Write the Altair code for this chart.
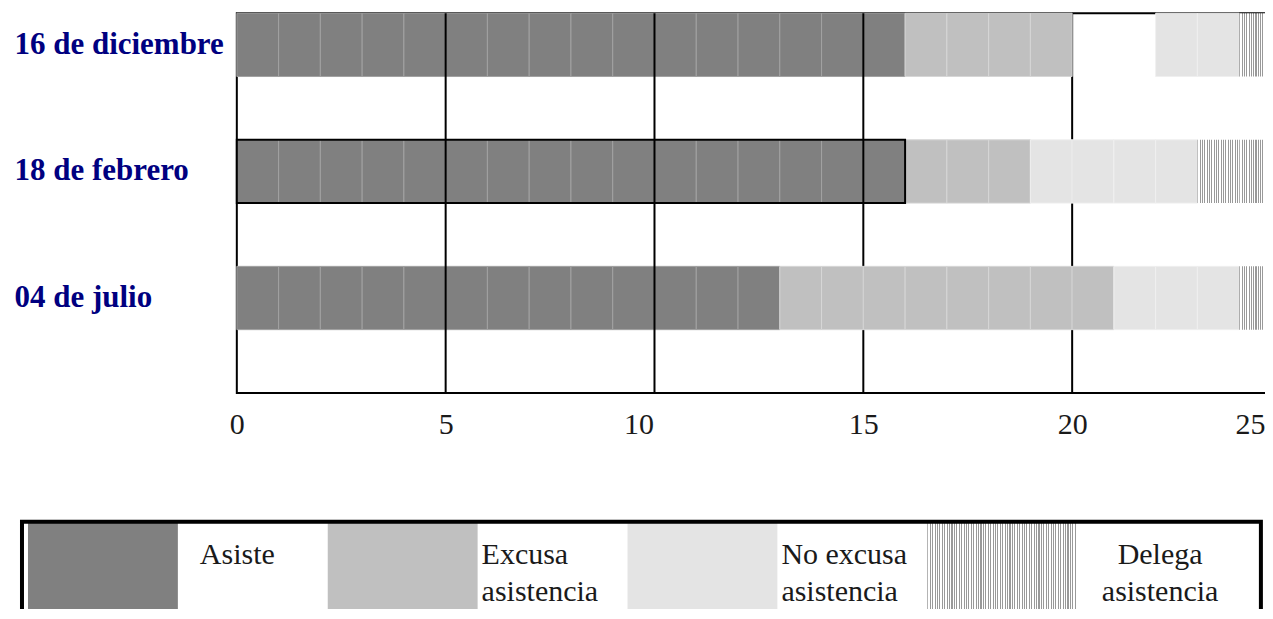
import altair as alt
import pandas as pd

# ---------------- data ----------------
fechas = ["16 de diciembre", "18 de febrero", "04 de julio"]
asiste = [16, 16, 13]
excusa = [4, 3, 8]
sin_dato = [2, 0, 0]
no_excusa = [2, 4, 3]
delega = [1, 2, 1]

categorias = ["Asiste", "Excusa", "Sin dato", "No excusa", "Delega"]
series = [asiste, excusa, sin_dato, no_excusa, delega]

ticks_x = [0, 5, 10, 15, 20, 25]
grid_x = [5, 10, 15, 20]

legend_items = ["Asiste", "Excusa", "No excusa", "Delega"]
legend_labels = ["Asiste", "Excusa\nasistencia", "No excusa\nasistencia", "Delega\nasistencia"]

# one rectangle per person (unit), stacked in order
rows = []
for i, f in enumerate(fechas):
    pos = 0
    for cat, vals in zip(categorias, series):
        for _ in range(vals[i]):
            rows.append({"fecha": f, "cat": cat, "ini": pos, "fin": pos + 1, "slot": "barra"})
            pos += 1
units = pd.DataFrame(rows)

SERIF = "Liberation Serif"
fill_dom = ["Asiste", "Excusa", "No excusa"]
fill_rng = ["#808080", "#c0c0c0", "#e4e4e4"]
stroke_rng = ["#a2a2a2", "#d6d6d6", "#efefef"]


def rayado(n, color="#999999"):
    stops = []
    for i in range(n):
        a = i / n
        b = (i + 0.45) / n
        c = (i + 1) / n
        stops += [
            alt.GradientStop(offset=a, color=color),
            alt.GradientStop(offset=b, color=color),
            alt.GradientStop(offset=b, color="#ffffff"),
            alt.GradientStop(offset=c, color="#ffffff"),
        ]
    return alt.LinearGradient(gradient="linear", stops=stops, x1=0, x2=1, y1=0, y2=0)


x_enc = alt.X(
    "ini:Q",
    scale=alt.Scale(domain=[0, 25], nice=False, zero=True),
    axis=alt.Axis(
        values=ticks_x, labelFlush=False, grid=False, ticks=False, domain=False,
        title=None, labelFont=SERIF, labelFontSize=30, labelColor="#1a1a1a",
        labelPadding=17,
        labelOffset={
            "condition": [
                {"test": "datum.value == 10", "value": -16},
                {"test": "datum.value == 25", "value": -31},
            ],
            "value": 0,
        },
    ),
)
y_enc = alt.Y(
    "fecha:N",
    sort=fechas,
    scale=alt.Scale(domain=fechas, paddingInner=0, paddingOuter=0),
    axis=alt.Axis(
        title=None, domain=False, ticks=False, tickSize=0, labelAlign="left",
        labelPadding=223, labelOffset=-31.67, labelBaseline="middle",
        labelFont=SERIF, labelFontSize=31, labelFontWeight="bold",
        labelColor="#000080", labelLimit=0,
    ),
)
yoff = alt.YOffset("slot:N", scale=alt.Scale(domain=["barra", "hueco"], paddingInner=0, paddingOuter=0))
fill_enc = alt.Fill("cat:N", scale=alt.Scale(domain=fill_dom, range=fill_rng), legend=None)
stroke_enc = alt.Stroke("cat:N", scale=alt.Scale(domain=fill_dom, range=stroke_rng), legend=None)

base = alt.Chart(units)

capa_asiste = base.transform_filter("datum.cat == 'Asiste'").mark_bar(strokeWidth=1).encode(
    x=x_enc, x2="fin:Q", y=y_enc, yOffset=yoff, fill=fill_enc, stroke=stroke_enc
)
capa_grid = alt.Chart(pd.DataFrame({"ini": grid_x})).mark_rule(color="black", strokeWidth=2).encode(
    x=alt.X("ini:Q")
)
capa_otros = base.transform_filter("datum.cat == 'Excusa' || datum.cat == 'No excusa'").mark_bar(
    strokeWidth=1
).encode(x=alt.X("ini:Q"), x2="fin:Q", y=alt.Y("fecha:N", sort=fechas), yOffset=yoff, fill=fill_enc, stroke=stroke_enc)
capa_delega = base.transform_filter("datum.cat == 'Delega'").mark_bar(
    fill=rayado(18), strokeWidth=0
).encode(x=alt.X("ini:Q"), x2="fin:Q", y=alt.Y("fecha:N", sort=fechas), yOffset=yoff)
capa_borde = base.transform_filter(
    "datum.fecha == '18 de febrero' && datum.cat == 'Asiste'"
).transform_aggregate(ini="min(ini)", fin="max(fin)", groupby=["fecha", "slot"]).mark_bar(
    fillOpacity=0, stroke="black", strokeWidth=2
).encode(x=alt.X("ini:Q"), x2="fin:Q", y=alt.Y("fecha:N", sort=fechas), yOffset=yoff)

top = alt.layer(capa_asiste, capa_grid, capa_otros, capa_delega, capa_borde).properties(
    width=1045, height=380, view=alt.ViewBackground(stroke="black", strokeWidth=2)
)

# ---------------- legend box ----------------
leg = pd.DataFrame({"item": legend_items, "label": legend_labels, "cat": legend_items})
leg["orden"] = range(len(legend_items))

x_leg_scale = alt.Scale(domain=[0, 4], range=[-209, 991], nice=False, zero=False)
leg_base = alt.Chart(leg).transform_calculate(ini="datum.orden", fin="datum.orden + 0.5")

sw_solid = leg_base.transform_filter("datum.cat != 'Delega'").mark_rect(strokeWidth=0).encode(
    x=alt.X("ini:Q", scale=x_leg_scale, axis=None), x2="fin:Q", fill=fill_enc
)
sw_hatch = leg_base.transform_filter("datum.cat == 'Delega'").mark_rect(
    fill=rayado(62), strokeWidth=0
).encode(x=alt.X("ini:Q"), x2="fin:Q")

txt_style = dict(baseline="alphabetic", dy=-18, lineBreak="\n", font=SERIF,
                 fontSize=30, lineHeight=37, color="#1a1a1a")
txt_a = leg_base.transform_filter("datum.item == 'Asiste'").mark_text(
    align="left", dx=22, **txt_style
).encode(x=alt.X("fin:Q"), text="label:N")
txt_b = leg_base.transform_filter("datum.item == 'Excusa' || datum.item == 'No excusa'").mark_text(
    align="left", dx=4, **txt_style
).encode(x=alt.X("fin:Q"), text="label:N")
txt_c = leg_base.transform_filter("datum.item == 'Delega'").mark_text(
    align="center", dx=83, **txt_style
).encode(x=alt.X("fin:Q"), text="label:N")

marco = alt.Chart(pd.DataFrame({"ini": [0]})).mark_rect(
    fillOpacity=0, stroke="black", strokeWidth=4
).encode(x=alt.datum(-0.02), x2=alt.datum(4.113))

leyenda = alt.layer(sw_solid, sw_hatch, txt_a, txt_b, txt_c, marco).properties(
    width=1025, height=120, view=alt.ViewBackground(stroke="transparent", strokeWidth=0)
)

chart = alt.vconcat(top, leyenda, spacing=79).properties(
    padding={"left": 5, "top": 3, "right": -17, "bottom": -35}
).configure(background="white")

chart.save("out.html", embed_options={"renderer": "svg", "actions": False})
